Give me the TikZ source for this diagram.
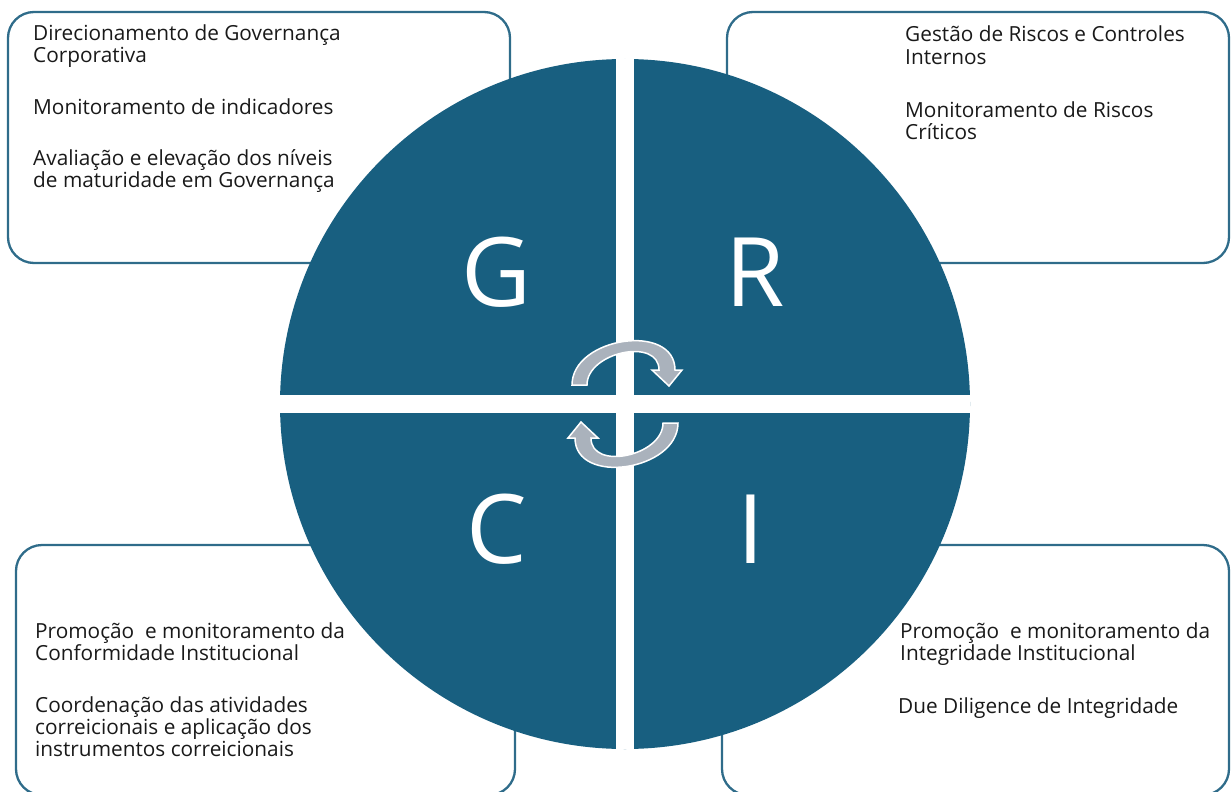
\documentclass[tikz,border=0pt]{standalone}
\usepackage{fontspec}
\setmainfont{Open Sans}
\usetikzlibrary{positioning}
\definecolor{grcblue}{RGB}{24,95,128}
\definecolor{panelline}{RGB}{47,108,138}
\definecolor{arrowgray}{RGB}{170,178,188}
\def\cyclearrowpath{(572,385) .. controls (572,337) and (675,322) .. (675,370) -- (682,370) -- (669,386) -- (652,370) -- (659,370) .. controls (659,337) and (587,352) .. (587,385) -- cycle}

\begin{document}
\begin{tikzpicture}[x=1pt, y=-1pt, panel/.style={draw=panelline, line width=2.3pt, rounded corners=26pt, inner sep=0pt}, item/.style={anchor=base west, inner sep=0pt, align=left, text=black!90, font=\fontsize{20.8}{22}\selectfont}, letter/.style={anchor=base, inner sep=0pt, text=white, font=\fontsize{96}{96}\selectfont}, wheel/.style={circle, fill=grcblue, inner sep=0pt, minimum size=690pt}, cyclearrow/.style={fill=arrowgray, draw=white, line width=1.5pt, line join=miter}]
    \useasboundingbox (0,0) rectangle (1231,792);

    % boxes
    \node[panel, minimum width=502pt, minimum height=251pt] (boxG) at (259,137.5) {};
    \node[panel, minimum width=502pt, minimum height=251pt] (boxR) at (978,137.5) {};
    \node[panel, minimum width=499pt, minimum height=250pt] (boxC) at (265.5,670) {};
    \node[panel, minimum width=507pt, minimum height=250pt] (boxI) at (975.5,670) {};

    % texts (base = last line)
    \node[item] (g1) at (33,63) {Direcionamento de Governança\\Corporativa};
    \node[item] (g2) at (33,114) {Monitoramento de indicadores};
    \node[item] (g3) at (33,187) {Avaliação e elevação dos níveis\\de maturidade em Governança};

    \node[item] (r1) at (905,64) {Gestão de Riscos e Controles\\Internos};
    \node[item] (r2) at (905,139) {Monitoramento de Riscos\\Críticos};

    \node[item] (c1) at (35,660) {Promoção\ \ e monitoramento da\\Conformidade Institucional};
    \node[item] (c2) at (35,756) {Coordenação das atividades\\correicionais e aplicação dos\\instrumentos correicionais};

    \node[item] (i1) at (900,660) {Promoção\ \ e monitoramento da\\Integridade Institucional};
    \node[item] (i2) at (898,713) {Due Diligence de Integridade};

    % wheel
    \node[wheel] (wheel) at (625,404) {};
    \fill[white] ([xshift=-9pt]wheel.north) rectangle ([xshift=9pt]wheel.south);
    \fill[white] ([yshift=9pt]wheel.west) rectangle ([yshift=-9pt]wheel.east);

    \foreach \l/\x/\y in {G/496/306, R/755/306, C/497/563, I/751/563} {
        \node[letter] (\l) at (\x,\y) {\l};
    }

    \draw[cyclearrow] \cyclearrowpath;
    \draw[cyclearrow, rotate around={180:(625,404)}] \cyclearrowpath;
\end{tikzpicture}
\end{document}
